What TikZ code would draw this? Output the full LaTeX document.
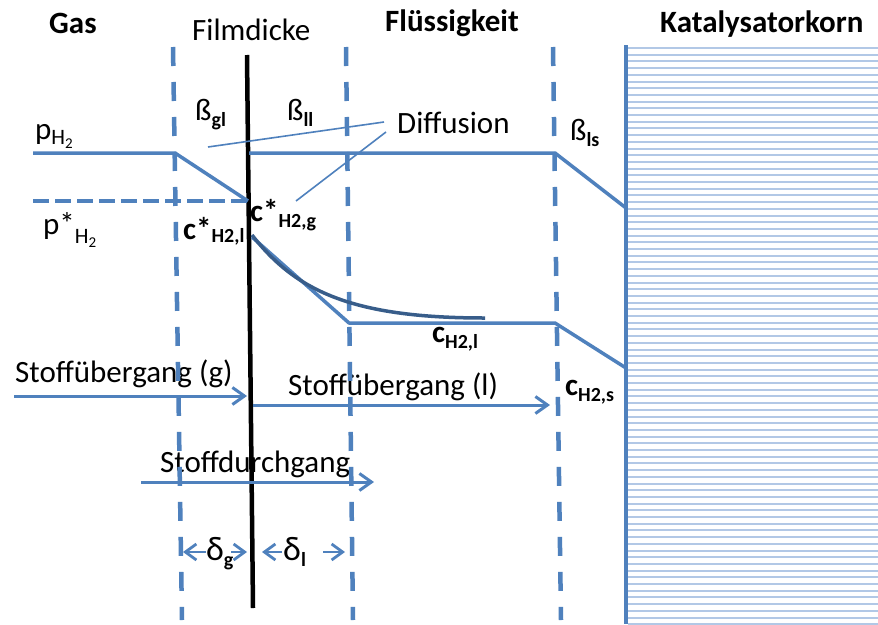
\documentclass[tikz,border=0pt]{standalone}
\usepackage{fontspec}
\setmainfont{Carlito}
\usetikzlibrary{arrows.meta}
\definecolor{ofblue}{HTML}{4F81BD}
\definecolor{darkcurve}{HTML}{385D8A}
\definecolor{hatchblue}{RGB}{178,200,230}
\newcommand{\bigf}{\fontsize{31}{36}\selectfont}
\newcommand{\sbf}[1]{\raisebox{-6pt}{\fontsize{20}{22}\selectfont #1}}
\newcommand{\ssbf}[1]{\raisebox{-4pt}{\fontsize{15}{16}\selectfont #1}}
\begin{document}
\begin{tikzpicture}[x=1pt,y=-1pt,
  lbl/.style={anchor=base west,inner sep=0pt,font=\bigf},
  hdr/.style={lbl,font=\bigf\bfseries},
  bline/.style={ofblue,line width=3.5pt,line join=round},
  vdash/.style={ofblue,line width=4.5pt,dash pattern=on 19pt off 16pt},
  hdash/.style={ofblue,line width=3.5pt,dash pattern=on 16pt off 6pt},
  pointer/.style={ofblue,line width=1.6pt},
  flowarrow/.style={ofblue,line width=3pt,-{Straight Barb[length=12pt,width=17pt]}},
  darrow/.style={ofblue,line width=2.8pt,-{Straight Barb[length=11pt,width=16pt]}}]
\useasboundingbox (0,0) rectangle (878,624);
\fill[white] (0,0) rectangle (878,624);

% catalyst grain hatch
\foreach \k in {0,...,86} \draw[hatchblue,line width=2pt] (628,48+\k*6.7) -- (878,48+\k*6.7);

% texts
\node[hdr] (gas) at (49,33) {Gas};
\node[lbl] (film) at (192,40) {Filmdicke};
\node[hdr] (fluess) at (385,31) {Flüssigkeit};
\node[hdr] (kat) at (660,32) {Katalysatorkorn};
\node[lbl] (diff) at (397,133) {Diffusion};
\node[lbl] (bgl) at (195,120) {ß\sbf{\bfseries gl}};
\node[lbl] (bll) at (287,120) {ß\sbf{\bfseries ll}};
\node[lbl] (bls) at (570,140) {ß\sbf{\bfseries ls}};
\node[lbl] (pH) at (35,139) {p\raisebox{-5pt}{\fontsize{22}{24}\selectfont H\ssbf{2}}};
\node[lbl] (pstar) at (43,234) {p*\raisebox{-9pt}{\fontsize{22}{24}\selectfont H\ssbf{2}}};
\node[lbl,font=\bigf\bfseries] (cg) at (250,221) {c*\sbf{H2,g}};
\node[lbl,font=\bigf\bfseries] (cl) at (183,239) {c*\raisebox{-3pt}{\fontsize{20}{22}\selectfont H2,l}};
\node[lbl,font=\bigf\bfseries] (cbulk) at (432,342) {c\sbf{H2,l}};
\node[lbl,font=\bigf\bfseries] (cs) at (565,395) {c\sbf{H2,s}};
\node[lbl] (sg) at (15,382) {Stoffübergang (g)};
\node[lbl] (sl) at (288,395) {Stoffübergang (l)};
\node[lbl] (sd) at (160,472) {Stoffdurchgang};
\node[lbl,font=\fontsize{34}{36}\selectfont] (dg) at (206,560) {δ\sbf{\bfseries g}};
\node[lbl,font=\fontsize{34}{36}\selectfont] (dl) at (283,560) {δ\sbf{\bfseries l}};

% coordinates
\coordinate (v1t) at (173,47);  \coordinate (v1b) at (182,620);
\coordinate (v2t) at (346,47);  \coordinate (v2b) at (353,620);
\coordinate (v3t) at (553,47);  \coordinate (v3b) at (561,620);
\coordinate (wallt) at (626,45); \coordinate (wallb) at (626,624);
\coordinate (filmt) at (247,55); \coordinate (filmb) at (253,608);

\coordinate (p0) at (33,153); \coordinate (p1) at (175,153); \coordinate (p2) at (248,201);
\coordinate (ps0) at (33,201);
\coordinate (q0) at (249,153); \coordinate (q1) at (555,153); \coordinate (q2) at (626,208);
\coordinate (c0) at (252,237); \coordinate (c1) at (349,323); \coordinate (c2) at (555,323); \coordinate (c3) at (626,368);
\coordinate (k0) at (252,235); \coordinate (k1) at (485,318);
\coordinate (d1a) at (208,147); \coordinate (d1b) at (384,122);
\coordinate (d2a) at (296,201); \coordinate (d2b) at (386,132);

\coordinate (sgA) at (14,396);  \coordinate (sgB) at (247,396);
\coordinate (slA) at (253,405); \coordinate (slB) at (550,405);
\coordinate (sdA) at (141,482); \coordinate (sdB) at (374,482);
\coordinate (dgL1) at (206,552); \coordinate (dgL2) at (183,552);
\coordinate (dgR1) at (231,552); \coordinate (dgR2) at (247,552);
\coordinate (dlL1) at (282,552); \coordinate (dlL2) at (262,552);
\coordinate (dlR1) at (323,552); \coordinate (dlR2) at (345,552);

% lines
\draw[ofblue,line width=4pt] (wallt) -- (wallb);
\draw[vdash] (v1t) -- (v1b);
\draw[vdash] (v2t) -- (v2b);
\draw[vdash] (v3t) -- (v3b);
\draw[line width=4.5pt] (filmt) -- (filmb);

\draw[bline] (p0) -- (p1) -- (p2);
\draw[hdash] (ps0) -- (p2);
\draw[bline] (q0) -- (q1) -- (q2);
\draw[bline] (c0) -- (c1) -- (c2) -- (c3);
\draw[darkcurve,line width=3.5pt] (k0) .. controls (295,290) and (350,318) .. (k1);
\draw[pointer] (d1a) -- (d1b);
\draw[pointer] (d2a) -- (d2b);

\draw[flowarrow] (sgA) -- (sgB);
\draw[flowarrow] (slA) -- (slB);
\draw[flowarrow] (sdA) -- (sdB);
\draw[darrow] (dgL1) -- (dgL2);
\draw[darrow] (dgR1) -- (dgR2);
\draw[darrow] (dlL1) -- (dlL2);
\draw[darrow] (dlR1) -- (dlR2);
\end{tikzpicture}
\end{document}
